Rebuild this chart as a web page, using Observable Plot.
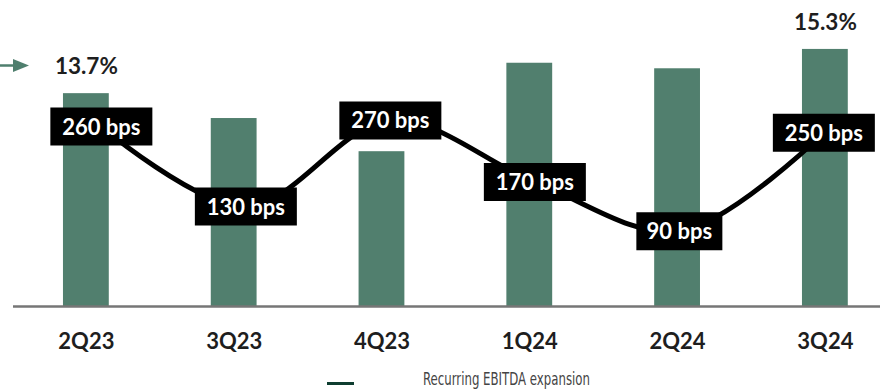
<!DOCTYPE html>
<html>
<head>
<meta charset="utf-8">
<script src="https://cdn.jsdelivr.net/npm/d3@7"></script>
<script src="https://cdn.jsdelivr.net/npm/@observablehq/plot@0.6"></script>
<style>
  html, body { margin: 0; padding: 0; background: #ffffff; }
  #chart { position: relative; width: 882px; height: 389px; overflow: hidden; font-family: Lato, "Noto Sans", sans-serif; }
  #chart svg.layer { position: absolute; left: 0; top: 0; }
  #arrow { position: absolute; left: 0; top: 0; }
  #legend { position: absolute; left: 0; top: 360px; }
</style>
</head>
<body>
<div id="chart">
  <svg id="arrow" width="40" height="90">
    <line x1="0" y1="65.5" x2="16" y2="65.5" stroke="#4f7f6e" stroke-width="2.5"></line>
    <path d="M13,59 L29,65.5 L13,72 Z" fill="#4f7f6e"></path>
  </svg>
  <svg id="legend" width="882" height="29">
    <line x1="327" y1="23.5" x2="354" y2="23.5" stroke="#0e3d30" stroke-width="3"></line>
    <text x="423" y="24.5" font-family="'Liberation Sans Narrow', 'DejaVu Sans Condensed', sans-serif" font-size="17" fill="#444" textLength="167" lengthAdjust="spacingAndGlyphs">Recurring EBITDA expansion</text>
  </svg>
</div>
<script>
// ---- data ----
const categories = ["2Q23", "3Q23", "4Q23", "1Q24", "2Q24", "3Q24"];
const ebitdaMargin = [13.7, 12.8, 11.6, 14.8, 14.6, 15.3];
const marginLabels = ["13.7%", "", "", "", "", "15.3%"];
const expansionBps = [260, 130, 270, 170, 90, 250];
const bpsLabels = ["260 bps", "130 bps", "270 bps", "170 bps", "90 bps", "250 bps"];

const rows = categories.map((q, i) => ({
  q, m: ebitdaMargin[i], ml: marginLabels[i], bps: expansionBps[i], bl: bpsLabels[i]
}));

const W = 882, H = 360;
const common = {
  width: W, height: H,
  marginLeft: 13, marginRight: 2, marginTop: 0, marginBottom: 54,
  style: { fontFamily: "Lato, 'Noto Sans', sans-serif", background: "transparent", overflow: "visible" }
};
const xOpts = { domain: categories, paddingInner: 0.69, paddingOuter: 0.278, align: 0.608, round: false };
const yBase = 6.0;

const bars = Plot.plot({
  ...common,
  x: { ...xOpts, label: null },
  y: { domain: [yBase, 17.07], axis: null },
  marks: [
    Plot.barY(rows, { x: "q", y1: yBase, y2: "m", fill: "#517f6e" }),
    Plot.ruleY([yBase], { stroke: "#767676", strokeWidth: 2.5 }),
    Plot.axisX({ tickSize: 0, tickPadding: 27, fontSize: 22, fontWeight: "bold", fill: "#1e1e1e", label: null }),
    Plot.text(rows.filter(d => d.ml), { x: "q", y: "m", text: "ml", dy: -26.5, fontSize: 22.5, fontWeight: "bold", fill: "#1e1e1e" })
  ]
});
bars.classList.add("layer");

const boxSymbol = {
  draw(context, size) {
    const hw = Math.sqrt(size / Math.PI);
    context.rect(-hw, -19, 2 * hw, 38);
  }
};

const line = Plot.plot({
  ...common,
  x: { ...xOpts, axis: null },
  y: { domain: [-32.5, 465], axis: null },
  r: { type: "identity" },
  marks: [
    Plot.line(rows, { x: "q", y: "bps", curve: "catmull-rom", stroke: "#000", strokeWidth: 5 }),
    Plot.dot(rows, { x: "q", y: "bps", r: d => d.bl.length * 8 - 5, symbol: boxSymbol, fill: "#000", stroke: "none" }),
    Plot.text(rows, { x: "q", y: "bps", text: "bl", fill: "#fff", fontSize: 22, fontWeight: "bold", dy: 1 })
  ]
});
line.classList.add("layer");

const chart = document.getElementById("chart");
chart.appendChild(bars);
chart.appendChild(line);
</script>
</body>
</html>
